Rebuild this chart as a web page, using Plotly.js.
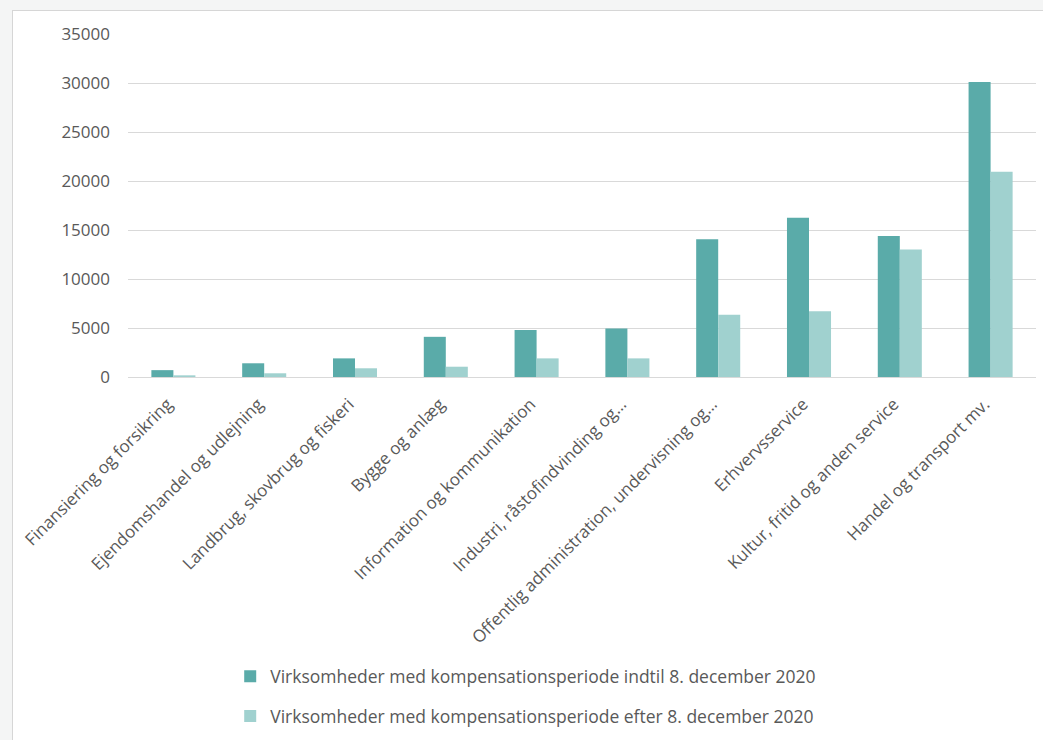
<!DOCTYPE html>
<html>
<head>
<meta charset="utf-8">
<script src="https://cdn.plot.ly/plotly-3.0.1.min.js"></script>
<style>
html,body{margin:0;padding:0;background:#f4f5f5;width:1043px;height:740px;overflow:hidden;}
#frame{position:absolute;left:12px;top:10px;width:1031px;height:730px;background:#fff;border-left:1px solid #d6d6d6;border-top:1px solid #d6d6d6;}
#chart{width:1031px;height:730px;}
</style>
</head>
<body>
<div id="frame"><div id="chart"></div></div>
<script>
const categories = [
  "Finansiering og forsikring",
  "Ejendomshandel og udlejning",
  "Landbrug, skovbrug og fiskeri",
  "Bygge og anlæg",
  "Information og kommunikation",
  "Industri, råstofindvinding og…",
  "Offentlig administration, undervisning og…",
  "Erhvervsservice",
  "Kultur, fritid og anden service",
  "Handel og transport mv."
];
const seriesNames = [
  "Virksomheder med kompensationsperiode indtil 8. december 2020",
  "Virksomheder med kompensationsperiode efter 8. december 2020"
];
const untilDec8 = [700, 1400, 1900, 4100, 4800, 4950, 14050, 16250, 14400, 30100];
const afterDec8 = [170, 380, 890, 1050, 1900, 1900, 6350, 6700, 13000, 20950];
const yTicks = [0, 5000, 10000, 15000, 20000, 25000, 30000, 35000];

const font = "'Open Sans', 'Liberation Sans', sans-serif";
const txt = "#595959";

const traces = [
  {type:"bar", x:categories, y:untilDec8, name:seriesNames[0], legendgroup:"a",
   marker:{color:"#5aaba9"}, hoverinfo:"y"},
  {type:"bar", x:categories, y:afterDec8, name:seriesNames[1], legendgroup:"b",
   marker:{color:"#a0d1cf"}, hoverinfo:"y"}
];

const layout = {
  width:1031, height:730,
  margin:{l:115, r:8, t:23, b:363},
  paper_bgcolor:"#ffffff", plot_bgcolor:"#ffffff",
  barmode:"group", bargap:0.515, bargroupgap:0,
  font:{family:font, color:txt, size:16},
  xaxis:{tickangle:-45, tickfont:{size:17, color:txt}, showgrid:false, showline:false, ticks:"", automargin:false,
         ticklabelstandoff:13, ticklabelshift:-6},
  yaxis:{range:[0,35000], tickvals:yTicks, ticktext:yTicks.map(String), showgrid:true, gridcolor:"#d9d9d9", gridwidth:1,
         zeroline:true, zerolinecolor:"#d9d9d9", zerolinewidth:1, showline:false, ticks:"",
         tickfont:{size:17, color:txt}, ticklabelstandoff:17, automargin:false},
  showlegend:true,
  legend:{orientation:"v", x:0.438, xanchor:"center", y:-0.815, yanchor:"top", tracegroupgap:14, itemwidth:30,
          font:{size:17.5, color:txt}, itemclick:false},
};
Plotly.newPlot("chart", traces, layout, {staticPlot:true, displayModeBar:false});
</script>
</body>
</html>
